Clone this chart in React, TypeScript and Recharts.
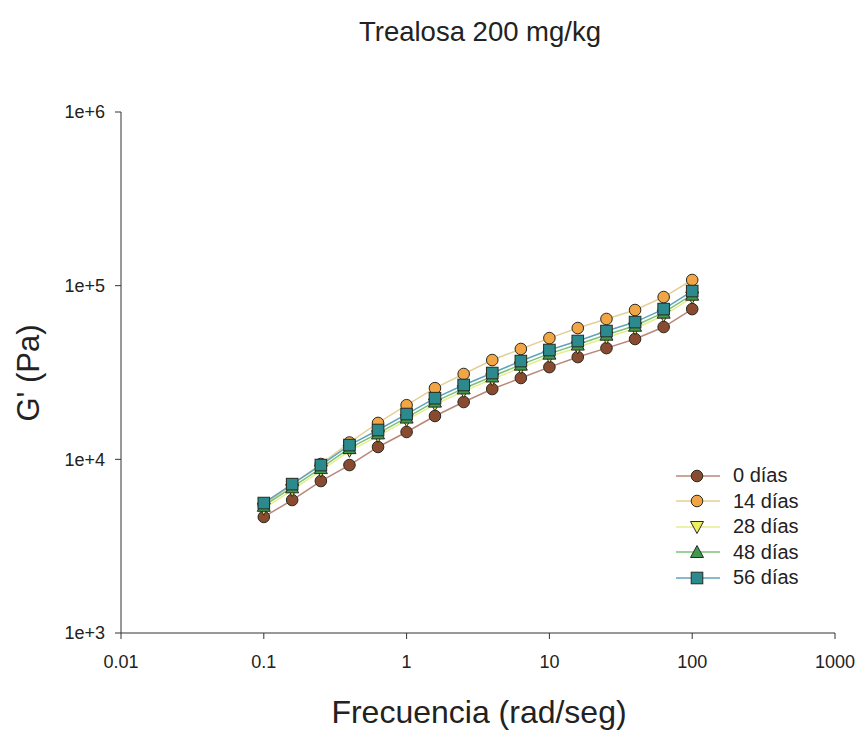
import React from "react";
import { LineChart, Line, XAxis, YAxis, Legend } from "recharts";

const freq = [0.1, 0.158, 0.251, 0.398, 0.631, 1, 1.58, 2.51, 3.98, 6.31, 10, 15.8, 25.1, 39.8, 63.1, 100];
const d0 = [4660, 5830, 7500, 9270, 11780, 14370, 17760, 21380, 25400, 29400, 33970, 38800, 43700, 49300, 57800, 73300];
const d14 = [5450, 7150, 9400, 12500, 16200, 20500, 25700, 31000, 37300, 43200, 49900, 57000, 64300, 72400, 86000, 107800];
const d28 = [5200, 6650, 8600, 11200, 13600, 16800, 20700, 24700, 28900, 33800, 39100, 44100, 50300, 56700, 67300, 85500];
const d48 = [5400, 6900, 8900, 11600, 14100, 17400, 21500, 25600, 30000, 35100, 40600, 45800, 52200, 58800, 69900, 88700];
const d56 = [5600, 7200, 9270, 12080, 14750, 18230, 22500, 26800, 31400, 36800, 42600, 48000, 54800, 61700, 73300, 93100];

const xTicks = [0.01, 0.1, 1, 10, 100, 1000];
const yTicks = [1000, 10000, 100000, 1000000];
const seriesNames = ["0 días", "14 días", "28 días", "48 días", "56 días"];

const table = freq.map((f, i) => ({ f, d0: d0[i], d14: d14[i], d28: d28[i], d48: d48[i], d56: d56[i] }));

const FONT = '"Liberation Sans", Arial, Helvetica, sans-serif';

type Kind = "circle" | "down" | "up" | "square";
const series: { key: string; name: string; line: string; fill: string; kind: Kind }[] = [
  { key: "d0", name: seriesNames[0], line: "#b8877a", fill: "#8a4a30", kind: "circle" },
  { key: "d14", name: seriesNames[1], line: "#e6cf95", fill: "#f2a545", kind: "circle" },
  { key: "d28", name: seriesNames[2], line: "#e6ee8a", fill: "#eef060", kind: "down" },
  { key: "d48", name: seriesNames[3], line: "#7cc07a", fill: "#3f9a50", kind: "up" },
  { key: "d56", name: seriesNames[4], line: "#5fa3b8", fill: "#2a8a8e", kind: "square" },
];

function Marker({ cx, cy, kind, fill }: { cx: number; cy: number; kind: Kind; fill: string }) {
  const stroke = "#2a2a20";
  if (kind === "circle") return <circle cx={cx} cy={cy} r={5.8} fill={fill} stroke={stroke} strokeWidth={1} />;
  if (kind === "square") return <rect x={cx - 5.8} y={cy - 5.8} width={11.6} height={11.6} fill={fill} stroke={stroke} strokeWidth={1} />;
  if (kind === "up")
    return <polygon points={`${cx},${cy - 6.5} ${cx + 6.5},${cy + 5.5} ${cx - 6.5},${cy + 5.5}`} fill={fill} stroke={stroke} strokeWidth={1} />;
  return <polygon points={`${cx},${cy + 6.5} ${cx + 6.5},${cy - 5.5} ${cx - 6.5},${cy - 5.5}`} fill={fill} stroke={stroke} strokeWidth={1} />;
}

function LegendContent() {
  return (
    <div style={{ fontFamily: FONT, fontSize: 20, color: "#222" }}>
      {series.map((s) => (
        <div key={s.key} style={{ display: "flex", alignItems: "center", height: 25.5 }}>
          <svg width={56} height={20} style={{ display: "block" }}>
            <line x1={0} y1={10} x2={44} y2={10} stroke={s.line} strokeWidth={1.5} />
            <Marker cx={21} cy={10} kind={s.kind} fill={s.fill} />
          </svg>
          <span style={{ marginLeft: 1 }}>{s.name}</span>
        </div>
      ))}
    </div>
  );
}

const fmtY = (v: number) => `1e+${Math.round(Math.log10(v))}`;
const fmtX = (v: number) => String(v);

function XTick(p: any) {
  return (
    <text x={p.x} y={p.y} dy="0.71em" textAnchor="middle" fill="#222" fontSize={18} fontFamily={FONT}>
      {fmtX(p.payload.value)}
    </text>
  );
}
function YTick(p: any) {
  return (
    <text x={p.x} y={p.y} dy="0.355em" textAnchor="end" fill="#222" fontSize={18} fontFamily={FONT}>
      {fmtY(p.payload.value)}
    </text>
  );
}

export default function App() {
  return (
    <div style={{ position: "absolute", left: 0, top: 0, width: 862, height: 732, background: "#fff" }}>
      <div
        style={{
          position: "absolute",
          left: 0,
          top: 16,
          width: 960,
          textAlign: "center",
          fontFamily: FONT,
          fontSize: 27.5,
          color: "#222",
        }}
      >
        Trealosa 200 mg/kg
      </div>
      <div
        style={{
          position: "absolute",
          left: 0,
          top: 694,
          width: 958,
          textAlign: "center",
          fontFamily: FONT,
          fontSize: 32,
          color: "#222",
        }}
      >
        Frecuencia (rad/seg)
      </div>
      <div
        style={{
          position: "absolute",
          left: 29,
          top: 373,
          transform: "translate(-50%, -50%) rotate(-90deg)",
          fontFamily: FONT,
          fontSize: 31,
          color: "#222",
          whiteSpace: "nowrap",
        }}
      >
        G' (Pa)
      </div>
      <LineChart
        width={862}
        height={732}
        data={table}
        margin={{ top: 112, right: 27, bottom: 0, left: 0 }}
        style={{ position: "absolute", left: 0, top: 0 }}
      >
        <XAxis
          dataKey="f"
          type="number"
          scale="log"
          domain={[0.01, 1000]}
          ticks={xTicks}
          allowDataOverflow
          height={99}
          stroke="#333"
          tickSize={6}
          tickMargin={16}
          tick={<XTick />}
          interval={0}
        />
        <YAxis
          type="number"
          scale="log"
          domain={[1000, 1000000]}
          ticks={yTicks}
          allowDataOverflow
          width={121}
          stroke="#333"
          tickSize={6}
          tickMargin={10}
          tick={<YTick />}
          interval={0}
        />
        <Legend
          layout="vertical"
          align="center"
          verticalAlign="middle"
          content={() => <LegendContent />}
          wrapperStyle={{ left: 676, top: 463, width: 160 }}
        />
        {series.map((s) => (
          <Line
            key={s.key}
            dataKey={s.key}
            name={s.name}
            stroke={s.line}
            strokeWidth={1.5}
            isAnimationActive={false}
            dot={(p: any) => <Marker key={`${s.key}-${p.index}`} cx={p.cx} cy={p.cy} kind={s.kind} fill={s.fill} />}
            activeDot={false}
          />
        ))}
      </LineChart>
    </div>
  );
}
